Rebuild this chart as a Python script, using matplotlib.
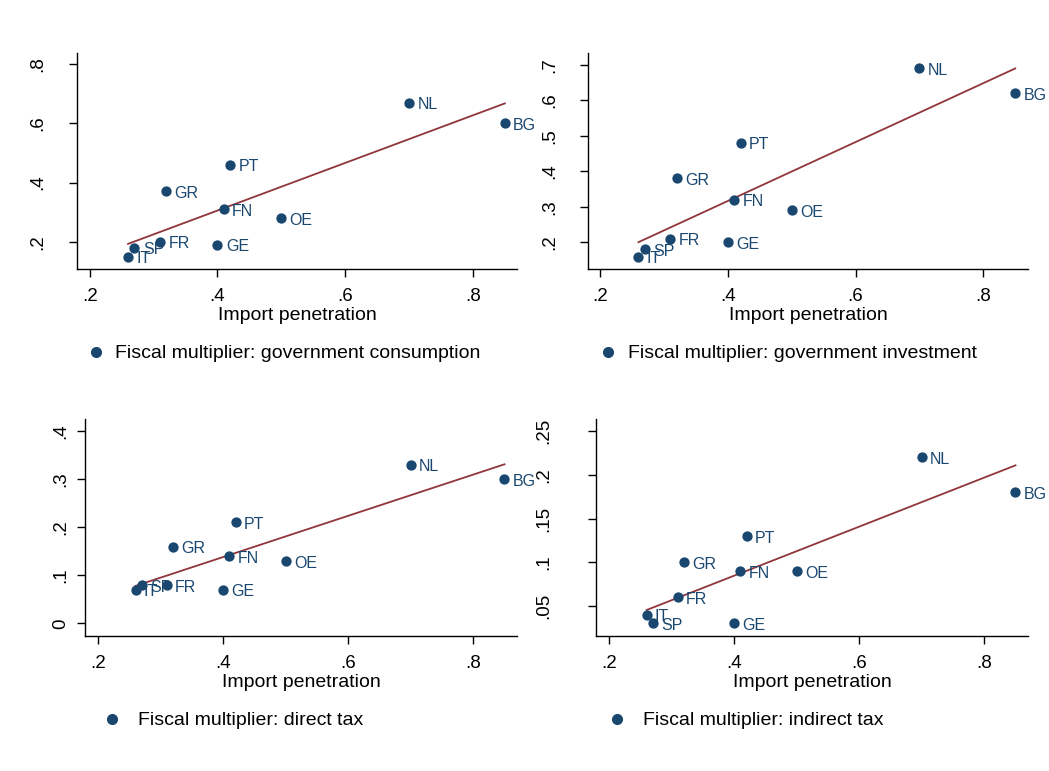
import matplotlib
matplotlib.use("Agg")
import matplotlib.pyplot as plt
import numpy as np
from matplotlib.lines import Line2D

plt.rcParams['font.family'] = ['Liberation Sans', 'DejaVu Sans']

countries = ["IT", "SP", "FR", "GR", "GE", "FN", "PT", "OE", "NL", "BG"]
import_pen = [0.26, 0.27, 0.31, 0.32, 0.40, 0.41, 0.42, 0.50, 0.70, 0.85]

mult_consumption = [0.15, 0.18, 0.20, 0.37, 0.19, 0.31, 0.46, 0.28, 0.67, 0.60]
mult_investment = [0.16, 0.18, 0.21, 0.38, 0.20, 0.32, 0.48, 0.29, 0.69, 0.62]
mult_direct_tax = [0.07, 0.08, 0.08, 0.16, 0.07, 0.14, 0.21, 0.13, 0.33, 0.30]
mult_indirect_tax = [0.04, 0.03, 0.06, 0.10, 0.03, 0.09, 0.13, 0.09, 0.22, 0.18]

legend_labels = ["Fiscal multiplier: government consumption",
                 "Fiscal multiplier: government investment",
                 "Fiscal multiplier: direct tax",
                 "Fiscal multiplier: indirect tax"]

x_ticks = [0.2, 0.4, 0.6, 0.8]
x_ticklabels = [".2", ".4", ".6", ".8"]
y_ticks_1 = [0.2, 0.4, 0.6, 0.8]
y_ticklabels_1 = [".2", ".4", ".6", ".8"]
y_ticks_2 = [0.2, 0.3, 0.4, 0.5, 0.6, 0.7]
y_ticklabels_2 = [".2", ".3", ".4", ".5", ".6", ".7"]
y_ticks_3 = [0.0, 0.1, 0.2, 0.3, 0.4]
y_ticklabels_3 = ["0", ".1", ".2", ".3", ".4"]
y_ticks_4 = [0.05, 0.10, 0.15, 0.20, 0.25]
y_ticklabels_4 = [".05", ".1", ".15", ".2", ".25"]

NAVY = "#1a476f"
MAROON = "#90353b"

W, H = 1049, 771
fig = plt.figure(figsize=(W / 100, H / 100), dpi=100)

def px_rect(l, r, b, t):
    return [l / W, 1 - b / H, (r - l) / W, (b - t) / H]

panels = [
    dict(rect=px_rect(77, 517, 269, 53), y=mult_consumption, yt=y_ticks_1, ytl=y_ticklabels_1,
         xlim=(0.180, 0.869), ylim=(0.108, 0.838), leg=legend_labels[0],
         legpos=(95.7, 352, 115), ypad=16.5),
    dict(rect=px_rect(588, 1028, 269, 53), y=mult_investment, yt=y_ticks_2, ytl=y_ticklabels_2,
         xlim=(0.181, 0.870), ylim=(0.125, 0.733), leg=legend_labels[1],
         legpos=(608.3, 352, 627.7), ypad=15.8),
    dict(rect=px_rect(85, 517, 636, 419), y=mult_direct_tax, yt=y_ticks_3, ytl=y_ticklabels_3,
         xlim=(0.179, 0.870), ylim=(-0.026, 0.425), leg=legend_labels[2],
         legpos=(112.3, 719, 138.3), ypad=5.5),
    dict(rect=px_rect(596, 1028, 636, 419), y=mult_indirect_tax, yt=y_ticks_4, ytl=y_ticklabels_4,
         xlim=(0.179, 0.870), ylim=(0.0156, 0.264), leg=legend_labels[3],
         legpos=(616.7, 719, 642.7), ypad=26.0),
]

for p in panels:
    ax = fig.add_axes(p["rect"])
    x = np.array(import_pen)
    y = np.array(p["y"])
    ax.scatter(x, y, s=55, color=NAVY, zorder=3, linewidths=0)
    for c, xi, yi in zip(countries, x, y):
        ax.annotate(c, (xi, yi), xytext=(6, -1.5), textcoords="offset points",
                    ha="left", va="center", fontsize=11.5, color=NAVY,
                    annotation_clip=False)
    b, a = np.polyfit(x, y, 1)
    xf = np.array([x.min(), x.max()])
    ax.plot(xf, a + b * xf, color=MAROON, lw=1.3, zorder=2)
    ax.set_xlim(*p["xlim"])
    ax.set_ylim(*p["ylim"])
    ax.set_xticks(x_ticks)
    ax.set_xticklabels(x_ticklabels)
    ax.set_yticks(p["yt"])
    ax.set_yticklabels(p["ytl"], rotation=90, va="center")
    ax.spines["top"].set_visible(False)
    ax.spines["right"].set_visible(False)
    for s in ["left", "bottom"]:
        ax.spines[s].set_linewidth(1.0)
    ax.tick_params(axis="both", direction="out", length=5.5, width=1.0, labelsize=13.5)
    ax.tick_params(axis="x", pad=8)
    ax.tick_params(axis="y", pad=p["ypad"])
    ax.set_xlabel("Import penetration", fontsize=14, labelpad=1.5)
    mx, my, tx = p["legpos"]
    fig.add_artist(Line2D([mx / W], [1 - my / H], marker="o", color=NAVY, markersize=7,
                          linestyle="none", transform=fig.transFigure))
    fig.text(tx / W, 1 - (my + 1.5) / H, p["leg"], fontsize=14, ha="left", va="center")

fig.savefig("out.png", dpi=100, facecolor="white")
